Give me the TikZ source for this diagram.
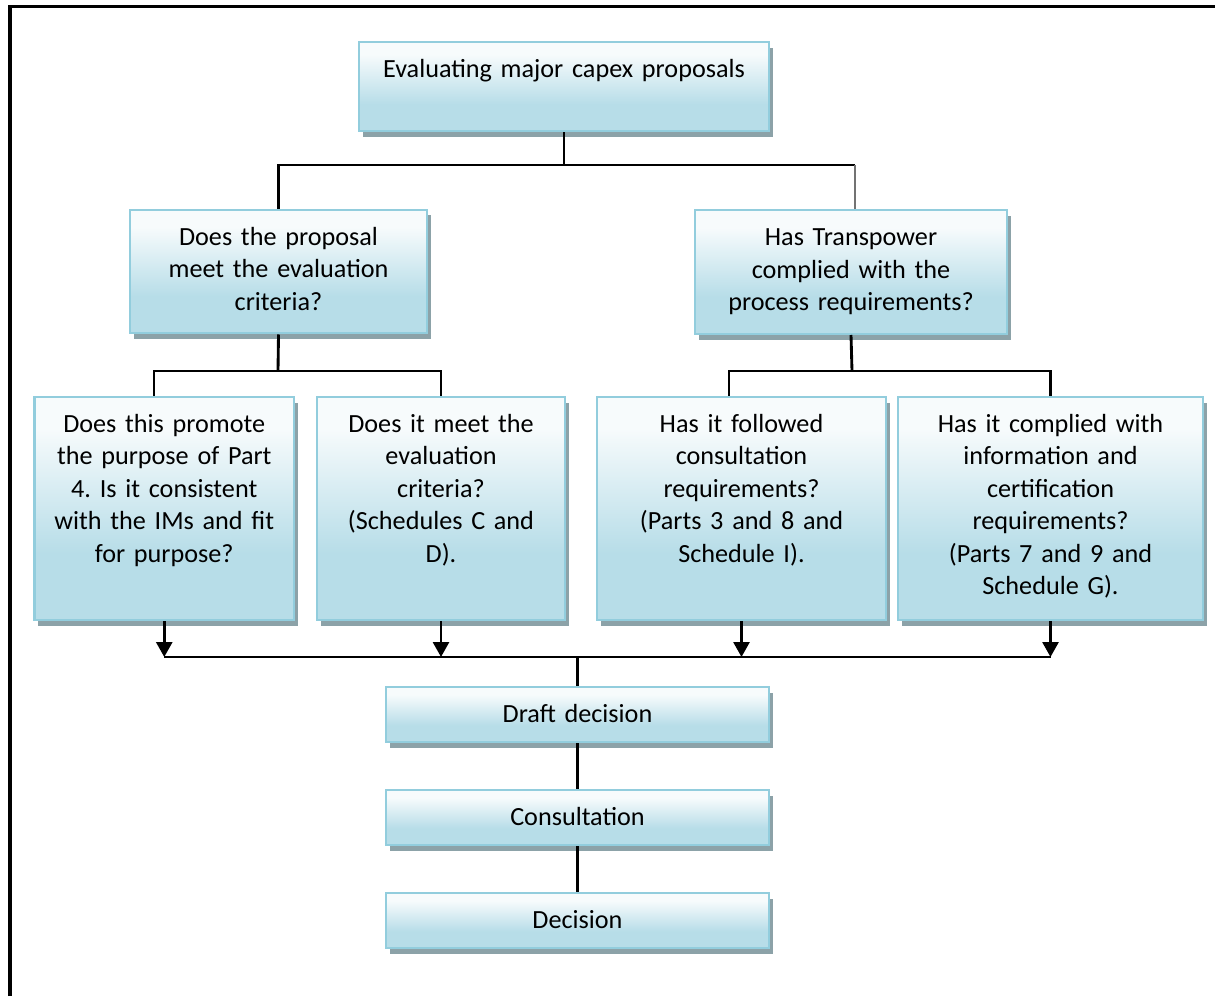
\documentclass[tikz,border=0pt]{standalone}
\usepackage{fontspec}
\setmainfont{Carlito}
\usepackage{tikz}
\usetikzlibrary{arrows.meta}
\usetikzlibrary{shadows}
\definecolor{capblue}{RGB}{183,221,232}
\definecolor{captop}{RGB}{247,251,252}
\definecolor{capedge}{RGB}{146,205,221}
\definecolor{capshade}{RGB}{140,162,168}
% path runs from 25bp (bottom) to 75bp (top)
\pgfdeclareverticalshading{capfill}{100bp}{color(0bp)=(capblue); color(40bp)=(capblue); color(68bp)=(captop); color(100bp)=(captop)}
\frenchspacing

\begin{document}
\begin{tikzpicture}[x=0.42pt, y=-0.42pt,
    capbox/.style={draw=capedge, line width=1pt, shade, shading=capfill,
      drop shadow={shadow xshift=1.6pt, shadow yshift=-2.4pt, fill=capshade, opacity=1},
      align=center, inner xsep=4pt, inner ysep=4pt, text height=10.9pt,
      font=\fontsize{11pt}{13.65pt}\selectfont},
    link/.style={line width=1.2pt, black},
    flow/.style={link, -{Triangle[width=6.7pt,length=6.3pt]}}]
   \useasboundingbox (0,0) rectangle (1215,996);
   \draw[line width=1.3pt] (10,996) -- (10,6.5) -- (1215,6.5);
   %%
   \node[capbox, text width=164.2pt, text depth=18.5pt] (eval) at (564,86.5) {Evaluating major capex proposals};
   \node[capbox, text width=116.7pt, text depth=33pt] (crit) at (278.5,271.5) {Does the proposal\\ meet the evaluation\\ criteria?};
   \node[capbox, text width=123pt, text depth=33pt] (proc) at (851,272) {Has Transpower\\ complied with the\\ process requirements?};
   %%
   \node[capbox, text width=101pt, text depth=74.8pt] (qA) at (164.25,508.5) {Does this promote\\ the purpose of Part\\ 4. Is it consistent\\ with the IMs and fit\\ for purpose?};
   \node[capbox, text width=96.2pt, text depth=74.8pt] (qB) at (441,508.5) {Does it meet the\\ evaluation\\ criteria?\\ (Schedules C and\\ D).};
   \node[capbox, text width=113.4pt, text depth=74.8pt] (qC) at (741.5,508.5) {Has it followed\\ consultation\\ requirements?\\ (Parts 3 and 8 and\\ Schedule I).};
   \node[capbox, text width=120.1pt, text depth=74.8pt] (qD) at (1050.5,508.5) {Has it complied with\\ information and\\ certification\\ requirements?\\ (Parts 7 and 9 and\\ Schedule G).};
   %%
   \node[capbox, text width=152.9pt, text depth=4.2pt] (draft) at (577.5,714.5) {Draft decision};
   \node[capbox, text width=152.9pt, text depth=4.2pt] (consult) at (577.5,817.5) {Consultation};
   \node[capbox, text width=152.9pt, text depth=4.2pt] (decision) at (577.5,920.5) {Decision};
   %%
   \coordinate (topbus) at (564,165);
   \coordinate (procin) at ([xshift=1.7pt]proc.north);
   \coordinate (critbus) at (278,371);
   \coordinate (procbus) at (852,371);
   \coordinate (mergebus) at (577.5,657);
   \draw[link] (eval.south) -- (topbus);
   \draw[link] (crit.north) |- (topbus) -- (topbus -| procin);
   \draw[link, black!55] (procin) -- (procin |- topbus);
   \draw[link] (crit.south) -- (critbus);
   \draw[link] ([xshift=-4.3pt]qA.north) |- (critbus) -| (qB.north);
   \draw[link] (proc.south) -- (procbus);
   \draw[link] ([xshift=-5.25pt]qC.north) |- (procbus) -| (qD.north);
   %%
   \foreach \q in {qA,qB,qC,qD}
     \draw[flow] (\q.south) -- (\q.south |- mergebus);
   \draw[link] (qA.south |- mergebus) -- (qD.south |- mergebus);
   \draw[link] (mergebus) -- (draft.north);
   \draw[link] (draft.south) -- (consult.north);
   \draw[link] (consult.south) -- (decision.north);
\end{tikzpicture}
\end{document}
